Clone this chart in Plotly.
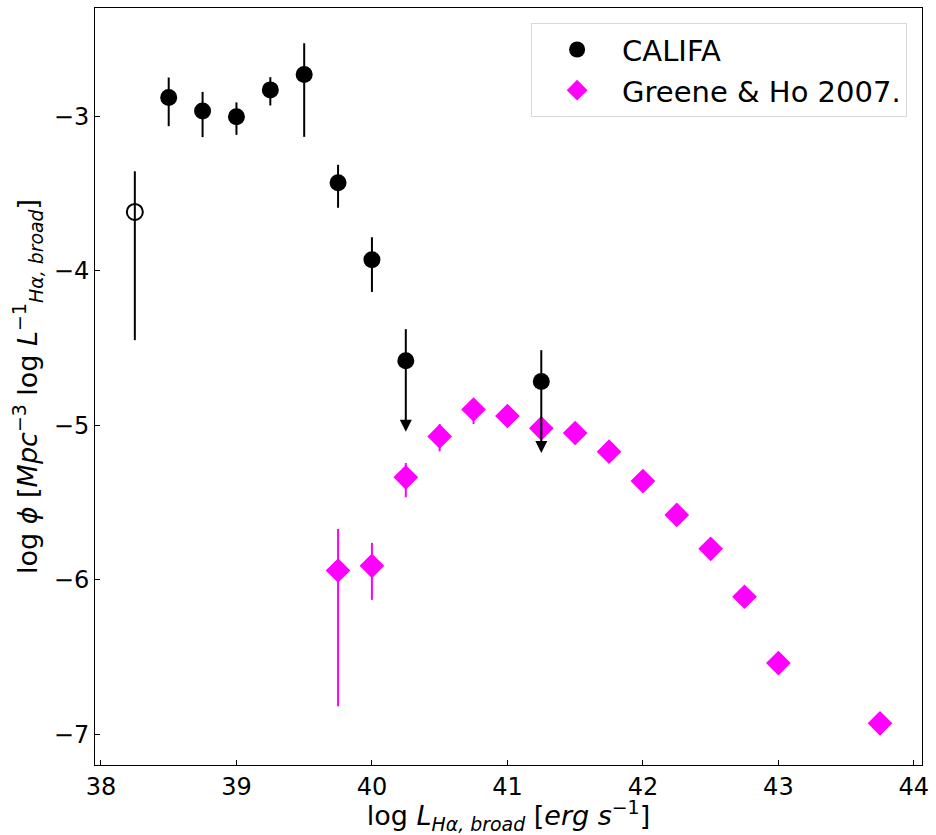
import plotly.graph_objects as go

# CALIFA detections (filled)
califa_x = [38.5, 38.75, 39.0, 39.25, 39.5, 39.75, 40.0]
califa_y = [-2.879, -2.966, -3.004, -2.830, -2.730, -3.431, -3.929]
califa_up = [-2.750, -2.843, -2.911, -2.748, -2.528, -3.315, -3.784]
califa_lo = [-3.065, -3.136, -3.121, -2.931, -3.134, -3.593, -4.138]

# CALIFA open point
open_x = [38.25]
open_y = [-3.62]
open_up = [-3.357]
open_lo = [-4.45]

# CALIFA upper limits
lim_x = [40.25, 41.25]
lim_y = [-4.584, -4.717]
lim_up = [-4.379, -4.515]
lim_tip = [-5.043, -5.180]

# Greene & Ho 2007
gh_x = [39.75, 40.0, 40.25, 40.5, 40.75, 41.0, 41.25, 41.5, 41.75, 42.0,
        42.25, 42.5, 42.75, 43.0, 43.75]
gh_y = [-5.941, -5.911, -5.338, -5.073, -4.899, -4.941, -5.021, -5.051,
        -5.172, -5.362, -5.581, -5.801, -6.111, -6.540, -6.930]
gh_up = [-5.672, -5.762, -5.245, -4.993, -4.836, -4.941, -5.021, -5.051,
         -5.172, -5.362, -5.581, -5.801, -6.111, -6.540, -6.930]
gh_lo = [-6.820, -6.131, -5.467, -5.170, -4.993, -4.941, -5.021, -5.051,
         -5.172, -5.362, -5.581, -5.801, -6.111, -6.540, -6.930]

x_ticks = [38, 39, 40, 41, 42, 43, 44]
y_ticks = [-7, -6, -5, -4, -3]

FONT = "DejaVu Sans"

fig = go.Figure()

all_cx = califa_x + lim_x
all_cy = califa_y + lim_y
all_cup = [u - y for u, y in zip(califa_up, califa_y)] + [u - y for u, y in zip(lim_up, lim_y)]
all_clo = [y - l for l, y in zip(califa_lo, califa_y)] + [0 for _ in lim_y]

fig.add_trace(go.Scatter(
    x=gh_x, y=gh_y, mode="markers", name="Greene & Ho 2007.",
    marker=dict(symbol="diamond", size=19, color="#ff00ff"),
    error_y=dict(type="data", symmetric=False,
                 array=[u - y for u, y in zip(gh_up, gh_y)],
                 arrayminus=[y - l for l, y in zip(gh_lo, gh_y)],
                 color="#ff00ff", thickness=2, width=0),
    legendrank=2,
))

fig.add_trace(go.Scatter(
    x=all_cx, y=all_cy, mode="markers", name="CALIFA",
    marker=dict(symbol="circle", size=17, color="black"),
    error_y=dict(type="data", symmetric=False, array=all_cup, arrayminus=all_clo,
                 color="black", thickness=2, width=0),
    legendrank=1,
))

fig.add_trace(go.Scatter(
    x=open_x, y=open_y, mode="markers", showlegend=False,
    marker=dict(symbol="circle-open", size=16, color="black", line=dict(width=2)),
    error_y=dict(type="data", symmetric=False,
                 array=[u - y for u, y in zip(open_up, open_y)],
                 arrayminus=[y - l for l, y in zip(open_lo, open_y)],
                 color="black", thickness=2, width=0),
))

for xx, yy, tip in zip(lim_x, lim_y, lim_tip):
    fig.add_annotation(x=xx, y=tip, ax=xx, ay=yy, xref="x", yref="y",
                       axref="x", ayref="y", showarrow=True, text="",
                       arrowhead=2, arrowsize=1.2, arrowwidth=2,
                       arrowcolor="black", standoff=0, startstandoff=0)

fig.update_layout(
    width=936, height=835,
    margin=dict(l=95, r=9, t=7, b=70),
    plot_bgcolor="white", paper_bgcolor="white",
    font=dict(family=FONT, color="black"),
    showlegend=True,
    legend=dict(x=0.982, y=0.98, xanchor="right", yanchor="top",
                font=dict(size=29, family=FONT), bgcolor="white",
                bordercolor="#d9d9d9", borderwidth=1, itemsizing="trace",
                itemwidth=80, tracegroupgap=4),
)

fig.update_xaxes(
    range=[37.956, 44.06], tickvals=x_ticks, ticktext=[str(v) for v in x_ticks],
    ticks="inside", ticklen=5, tickcolor="black", tickwidth=1,
    showline=True, linecolor="black", linewidth=1, mirror=True,
    showgrid=False, zeroline=False, tickfont=dict(size=24, family=FONT),
    title=dict(text="log <i>L</i><sub><i>Hα, broad</i></sub> [<i>erg s</i><sup>−1</sup>]",
               font=dict(size=27, family=FONT), standoff=6),
)
fig.update_yaxes(
    range=[-7.20, -2.30], tickvals=y_ticks, ticktext=["−7", "−6", "−5", "−4", "−3"],
    ticks="inside", ticklen=5, tickcolor="black", tickwidth=1,
    showline=True, linecolor="black", linewidth=1, mirror=True,
    showgrid=False, zeroline=False, tickfont=dict(size=24, family=FONT),
    title=dict(text="log <i>ϕ</i> [<i>Mpc</i><sup>−3</sup> log <i>L</i><sup>−1</sup><sub><i>Hα, broad</i></sub>]",
               font=dict(size=27, family=FONT), standoff=8),
)

fig.write_html("out.html")
